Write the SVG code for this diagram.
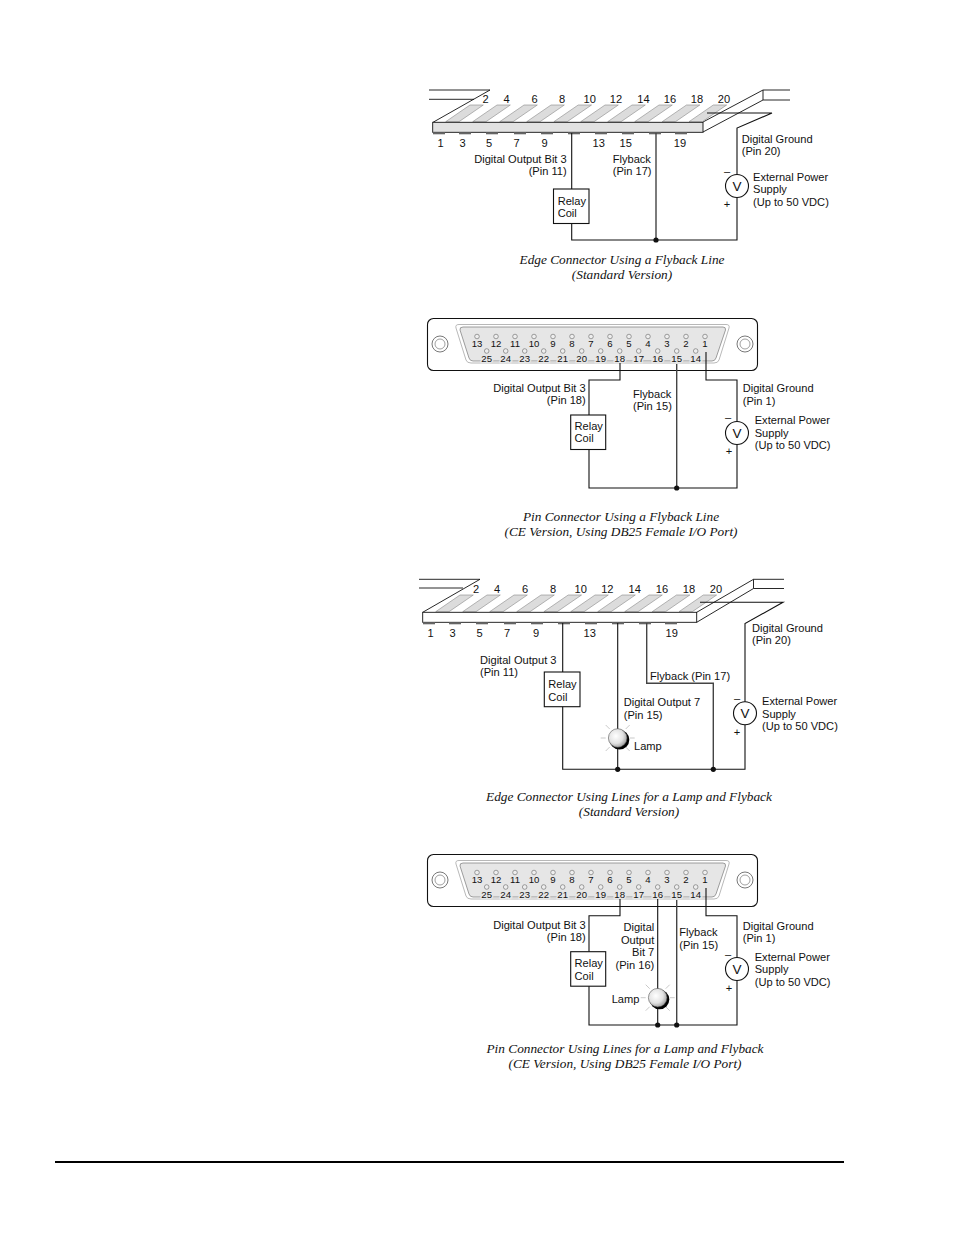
<svg xmlns="http://www.w3.org/2000/svg" xmlns:xlink="http://www.w3.org/1999/xlink" width="954" height="1235" viewBox="0 0 954 1235">
<style>
text{font-family:"Liberation Sans",Arial,sans-serif;font-size:11.1px;fill:#111}
.r{text-anchor:end}
.m{text-anchor:middle}
.p{font-size:9.6px;text-anchor:middle}
.pl{font-size:9.6px;text-anchor:middle;stroke:#e6e6e6;stroke-width:3px;paint-order:stroke}
.cap{font-family:"Liberation Serif","Times New Roman",serif;font-style:italic;font-size:13.3px;text-anchor:middle}
.v{font-size:13.5px;text-anchor:middle}
.w{fill:none;stroke:#111;stroke-width:1.1}
.g{fill:none;stroke:#444;stroke-width:1.4}
.o{fill:none;stroke:#111;stroke-width:.9}
.box{fill:#fff;stroke:#111;stroke-width:1.1}
.ray{stroke:#bbb;stroke-width:.8}
</style>
<defs>
<radialGradient id="lg" cx=".4" cy=".4" r=".65"><stop offset="0" stop-color="#fff"/><stop offset=".6" stop-color="#e2e2e2"/><stop offset="1" stop-color="#999"/></radialGradient>
<polygon id="fin" points="0,0 24.3,-16.7 37.6,-16.7 13.3,0" fill="#dcdcdc" stroke="#888" stroke-width=".6"/>
<rect id="tab" x="0" y="0" width="12" height="2" fill="#666"/>
<g id="finsrow">
<use xlink:href="#fin" x="0"/><use xlink:href="#fin" x="27"/><use xlink:href="#fin" x="54"/><use xlink:href="#fin" x="81"/><use xlink:href="#fin" x="108.2"/><use xlink:href="#fin" x="135"/><use xlink:href="#fin" x="162"/><use xlink:href="#fin" x="189"/><use xlink:href="#fin" x="216.5"/><use xlink:href="#fin" x="243.3"/>
</g>
<g id="tabsrow">
<use xlink:href="#tab" x="0"/><use xlink:href="#tab" x="26"/><use xlink:href="#tab" x="53"/><use xlink:href="#tab" x="81"/><use xlink:href="#tab" x="108"/><use xlink:href="#tab" x="135"/><use xlink:href="#tab" x="162"/><use xlink:href="#tab" x="189"/><use xlink:href="#tab" x="216"/><use xlink:href="#tab" x="242"/>
</g>
<g id="dshell">
<rect x="427.5" y="318.5" width="330" height="52" rx="6" fill="#fff" stroke="#111" stroke-width="1.1"/>
<circle cx="440" cy="344" r="8" fill="none" stroke="#555" stroke-width=".8"/><circle cx="440" cy="344" r="5" fill="none" stroke="#777" stroke-width=".7"/>
<circle cx="745" cy="344" r="8" fill="none" stroke="#555" stroke-width=".8"/><circle cx="745" cy="344" r="5" fill="none" stroke="#777" stroke-width=".7"/>
<path d="M459 324.5H726Q730 324.5 729 328L719 360Q718 363 714 363H471Q467 363 466 360L456 328Q455 324.5 459 324.5Z" fill="none" stroke="#999" stroke-width=".7"/>
<path d="M463 327H723Q726 327 725.5 330L716 358Q715 361 712 361H473Q470 361 469 358L460 330Q459.500 327 463 327Z" fill="#e6e6e6" stroke="#777" stroke-width=".7"/>
<g fill="#eee" stroke="#666" stroke-width=".6">
<circle cx="477" cy="336.500" r="2.300"/><circle cx="496" cy="336.500" r="2.300"/><circle cx="515" cy="336.500" r="2.300"/><circle cx="534" cy="336.500" r="2.300"/><circle cx="553" cy="336.500" r="2.300"/><circle cx="572" cy="336.500" r="2.300"/><circle cx="591" cy="336.500" r="2.300"/><circle cx="610" cy="336.500" r="2.300"/><circle cx="629" cy="336.500" r="2.300"/><circle cx="648" cy="336.500" r="2.300"/><circle cx="667" cy="336.500" r="2.300"/><circle cx="686" cy="336.500" r="2.300"/><circle cx="705" cy="336.500" r="2.300"/>
<circle cx="486.700" cy="351" r="2.300"/><circle cx="505.700" cy="351" r="2.300"/><circle cx="524.700" cy="351" r="2.300"/><circle cx="543.700" cy="351" r="2.300"/><circle cx="562.700" cy="351" r="2.300"/><circle cx="581.700" cy="351" r="2.300"/><circle cx="600.700" cy="351" r="2.300"/><circle cx="619.700" cy="351" r="2.300"/><circle cx="638.700" cy="351" r="2.300"/><circle cx="657.700" cy="351" r="2.300"/><circle cx="676.700" cy="351" r="2.300"/><circle cx="695.700" cy="351" r="2.300"/>
</g>
</g>
<g id="lamp">
<line class="ray" x1="-17" y1="0" x2="-12" y2="0"/><line class="ray" x1="17" y1="0" x2="12" y2="0"/><line class="ray" x1="-12" y1="-13" x2="-8" y2="-9"/><line class="ray" x1="12" y1="-13" x2="8" y2="-9"/><line class="ray" x1="-12" y1="13" x2="-8" y2="9"/><line class="ray" x1="12" y1="13" x2="8" y2="9"/>
<circle cx="1.800" cy="1.800" r="9.800" fill="#000"/>
<circle cx="0" cy="0" r="9.300" fill="url(#lg)" stroke="#555" stroke-width=".6"/>
</g>
</defs>
<rect width="954" height="1235" fill="#fff"/>

<g id="edge-connector-1">
<path class="o" d="M429 90H490L433 122.300M429 99.300H474M703 122L763 90V100L703 132M763 90H790M763 100H790"/>
<use xlink:href="#finsrow" x="445.700" y="121.700"/>
<rect x="432.700" y="122.300" width="270.300" height="10" fill="#e2e2e2" stroke="#111" stroke-width=".9"/>
<use xlink:href="#tabsrow" x="433" y="132.300"/>
<text class="m" x="485.700" y="103">2</text><text class="m" x="506.700" y="103">4</text><text class="m" x="534.500" y="103">6</text><text class="m" x="562" y="103">8</text><text class="m" x="589.700" y="103">10</text><text class="m" x="616" y="103">12</text><text class="m" x="643.500" y="103">14</text><text class="m" x="670" y="103">16</text><text class="m" x="697" y="103">18</text><text class="m" x="724" y="103">20</text>
<text class="m" x="440.700" y="146.500">1</text><text class="m" x="462.700" y="146.500">3</text><text class="m" x="489" y="146.500">5</text><text class="m" x="516.700" y="146.500">7</text><text class="m" x="544.700" y="146.500">9</text><text class="m" x="598.700" y="146.500">13</text><text class="m" x="625.700" y="146.500">15</text><text class="m" x="680" y="146.500">19</text>
</g>
<g id="connectors-1">
<path class="w" d="M571.700 133V240H737V128L772 113H707"/>
<path class="g" d="M656 133V240"/>
<circle cx="656" cy="240" r="2.600" fill="#111"/>
</g>
<g id="relay-1"><rect class="box" x="553.500" y="189" width="35.500" height="34.500"/><text x="557.700" y="204.500">Relay</text><text x="557.700" y="216.500">Coil</text></g>
<g id="supply-1"><circle class="box" cx="737" cy="186" r="11.500"/><text class="v" x="737" y="191">V</text><text class="m" x="727" y="175">–</text><text class="m" x="727" y="208">+</text><text x="753" y="180.500">External Power</text><text x="753" y="193">Supply</text><text x="753" y="205.500">(Up to 50 VDC)</text></g>
<g id="labels-1">
<text class="r" x="566.700" y="163">Digital Output Bit 3</text><text class="r" x="566.700" y="175">(Pin 11)</text>
<text x="612.700" y="163">Flyback</text><text x="612.700" y="175">(Pin 17)</text>
<text x="741.700" y="143">Digital Ground</text><text x="741.700" y="155">(Pin 20)</text>
<text class="cap" x="622" y="264">Edge Connector Using a Flyback Line</text><text class="cap" x="622" y="279">(Standard Version)</text>
</g>

<g id="pin-connector-2">
<use xlink:href="#dshell"/>
<text class="p" x="477" y="347">13</text><text class="p" x="496" y="347">12</text><text class="p" x="515" y="347">11</text><text class="p" x="534" y="347">10</text><text class="p" x="553" y="347">9</text><text class="p" x="572" y="347">8</text><text class="p" x="591" y="347">7</text><text class="p" x="610" y="347">6</text><text class="p" x="629" y="347">5</text><text class="p" x="648" y="347">4</text><text class="p" x="667" y="347">3</text><text class="p" x="686" y="347">2</text><text class="p" x="705" y="347">1</text>
<text class="pl" x="486.700" y="362">25</text><text class="pl" x="505.700" y="362">24</text><text class="pl" x="524.700" y="362">23</text><text class="pl" x="543.700" y="362">22</text><text class="pl" x="562.700" y="362">21</text><text class="pl" x="581.700" y="362">20</text><text class="pl" x="600.700" y="362">19</text><text class="pl" x="619.700" y="362">18</text><text class="pl" x="638.700" y="362">17</text><text class="pl" x="657.700" y="362">16</text><text class="pl" x="676.700" y="362">15</text><text class="pl" x="695.700" y="362">14</text>
</g>
<g id="connectors-2">
<path class="w" d="M620 363V380H589V488H737V380H706V352"/>
<path class="g" d="M676.700 364V488"/>
<circle cx="676.700" cy="488" r="2.600" fill="#111"/>
</g>
<g id="relay-2"><rect class="box" x="570.700" y="415" width="35" height="34.500"/><text x="574.500" y="430">Relay</text><text x="574.500" y="442">Coil</text></g>
<g id="supply-2"><circle class="box" cx="737" cy="433" r="11.500"/><text class="v" x="737" y="438">V</text><text class="m" x="728" y="421">–</text><text class="m" x="729" y="455">+</text><text x="754.700" y="424">External Power</text><text x="754.700" y="436.500">Supply</text><text x="754.700" y="449">(Up to 50 VDC)</text></g>
<g id="labels-2">
<text class="r" x="585.700" y="392">Digital Output Bit 3</text><text class="r" x="585.700" y="404">(Pin 18)</text>
<text x="633" y="398">Flyback</text><text x="633" y="410">(Pin 15)</text>
<text x="742.700" y="392">Digital Ground</text><text x="742.700" y="405">(Pin 1)</text>
<text class="cap" x="621" y="521">Pin Connector Using a Flyback Line</text><text class="cap" x="621" y="536">(CE Version, Using DB25 Female I/O Port)</text>
</g>

<g id="edge-connector-3">
<path class="o" d="M419 579.300H480L422.700 612.300M419 588H463M696.700 612.300L753.500 579.300V588.500L696.700 622.300M753.500 579.300H784M753.500 588.500H784"/>
<use xlink:href="#finsrow" x="435.700" y="611.700"/>
<rect x="422.700" y="612.300" width="274" height="10" fill="#fff" stroke="#111" stroke-width=".9"/>
<use xlink:href="#tabsrow" x="423" y="622.300"/>
<text class="m" x="476" y="592.700">2</text><text class="m" x="497" y="592.700">4</text><text class="m" x="525" y="592.700">6</text><text class="m" x="553" y="592.700">8</text><text class="m" x="580.700" y="592.700">10</text><text class="m" x="607.300" y="592.700">12</text><text class="m" x="634.700" y="592.700">14</text><text class="m" x="662" y="592.700">16</text><text class="m" x="689" y="592.700">18</text><text class="m" x="716" y="592.700">20</text>
<text class="m" x="430.700" y="636.500">1</text><text class="m" x="452.700" y="636.500">3</text><text class="m" x="479.700" y="636.500">5</text><text class="m" x="507" y="636.500">7</text><text class="m" x="536" y="636.500">9</text><text class="m" x="589.700" y="636.500">13</text><text class="m" x="671.700" y="636.500">19</text>
</g>
<g id="connectors-3">
<path class="w" d="M700 602.300H783L745 623.500V769.300H562.700V623"/>
<path class="w" d="M617.700 623V769.300"/>
<path class="g" d="M646.700 623V683.300H713.300V769.300"/>
<circle cx="617.700" cy="769.300" r="2.600" fill="#111"/><circle cx="713.300" cy="769.300" r="2.600" fill="#111"/>
</g>
<g id="relay-3"><rect class="box" x="544.300" y="672" width="35.700" height="34.700"/><text x="548.300" y="688">Relay</text><text x="548.300" y="700.500">Coil</text></g>
<g id="lamp-3"><use xlink:href="#lamp" x="617.700" y="738"/><text x="634" y="749.500">Lamp</text></g>
<g id="supply-3"><circle class="box" cx="745" cy="713.300" r="11.500"/><text class="v" x="745" y="718.300">V</text><text class="m" x="737" y="702">–</text><text class="m" x="737" y="736">+</text><text x="762" y="705">External Power</text><text x="762" y="717.500">Supply</text><text x="762" y="730">(Up to 50 VDC)</text></g>
<g id="labels-3">
<text x="480" y="664">Digital Output 3</text><text x="480" y="676">(Pin 11)</text>
<text x="650" y="680">Flyback (Pin 17)</text>
<text x="623.700" y="706">Digital Output 7</text><text x="623.700" y="718.500">(Pin 15)</text>
<text x="752" y="632">Digital Ground</text><text x="752" y="644">(Pin 20)</text>
<text class="cap" x="629" y="801">Edge Connector Using Lines for a Lamp and Flyback</text><text class="cap" x="629" y="816">(Standard Version)</text>
</g>

<g id="pin-connector-4">
<use xlink:href="#dshell" y="536"/>
<text class="p" x="477" y="883">13</text><text class="p" x="496" y="883">12</text><text class="p" x="515" y="883">11</text><text class="p" x="534" y="883">10</text><text class="p" x="553" y="883">9</text><text class="p" x="572" y="883">8</text><text class="p" x="591" y="883">7</text><text class="p" x="610" y="883">6</text><text class="p" x="629" y="883">5</text><text class="p" x="648" y="883">4</text><text class="p" x="667" y="883">3</text><text class="p" x="686" y="883">2</text><text class="p" x="705" y="883">1</text>
<text class="pl" x="486.700" y="898">25</text><text class="pl" x="505.700" y="898">24</text><text class="pl" x="524.700" y="898">23</text><text class="pl" x="543.700" y="898">22</text><text class="pl" x="562.700" y="898">21</text><text class="pl" x="581.700" y="898">20</text><text class="pl" x="600.700" y="898">19</text><text class="pl" x="619.700" y="898">18</text><text class="pl" x="638.700" y="898">17</text><text class="pl" x="657.700" y="898">16</text><text class="pl" x="676.700" y="898">15</text><text class="pl" x="695.700" y="898">14</text>
</g>
<g id="connectors-4">
<path class="w" d="M620 899V915.700H589V1025H737V915.700H706V888"/>
<path class="w" d="M657.700 899V1025"/>
<path class="g" d="M676.700 900V1025"/>
<circle cx="657.700" cy="1025" r="2.600" fill="#111"/><circle cx="676.700" cy="1025" r="2.600" fill="#111"/>
</g>
<g id="relay-4"><rect class="box" x="570.700" y="951.700" width="35" height="34.500"/><text x="574.500" y="967">Relay</text><text x="574.500" y="979.500">Coil</text></g>
<g id="lamp-4"><use xlink:href="#lamp" x="657.700" y="997.700"/><text x="611.700" y="1003">Lamp</text></g>
<g id="supply-4"><circle class="box" cx="737" cy="969" r="11.500"/><text class="v" x="737" y="974">V</text><text class="m" x="728" y="958">–</text><text class="m" x="729" y="992">+</text><text x="754.700" y="960.500">External Power</text><text x="754.700" y="973">Supply</text><text x="754.700" y="985.500">(Up to 50 VDC)</text></g>
<g id="labels-4">
<text class="r" x="585.700" y="929">Digital Output Bit 3</text><text class="r" x="585.700" y="941">(Pin 18)</text>
<text class="r" x="654.300" y="931">Digital</text><text class="r" x="654.300" y="944">Output</text><text class="r" x="654.300" y="956">Bit 7</text><text class="r" x="654.300" y="969">(Pin 16)</text>
<text x="679.300" y="936">Flyback</text><text x="679.300" y="949">(Pin 15)</text>
<text x="742.700" y="930">Digital Ground</text><text x="742.700" y="942">(Pin 1)</text>
<text class="cap" x="625" y="1053">Pin Connector Using Lines for a Lamp and Flyback</text><text class="cap" x="625" y="1068">(CE Version, Using DB25 Female I/O Port)</text>
</g>

<g id="page-rule"><rect x="55" y="1161" width="789" height="2" fill="#000"/></g>
</svg>
